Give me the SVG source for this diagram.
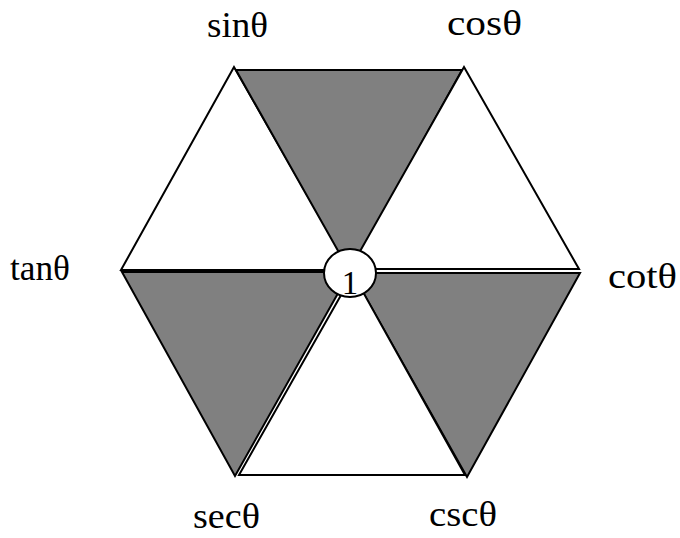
<svg xmlns="http://www.w3.org/2000/svg" width="680" height="538" viewBox="0 0 680 538">
<style>
.w{fill:#ffffff;stroke:#000;stroke-width:2;stroke-linejoin:miter}
.g{fill:#808080;stroke:#000;stroke-width:2;stroke-linejoin:miter}
.lbl{font-family:"Liberation Serif","Times New Roman",serif;font-size:36px;fill:#000}
.one{font-family:"Liberation Serif","Times New Roman",serif;font-size:33px;fill:#000;text-anchor:middle}
</style>
<rect width="680" height="538" fill="#fff"/>
<g id="triangles">
<polygon id="t-topleft" class="w" points="234,67 121,270 350,270"/>
<polygon id="t-top" class="g" points="236,70 462,70 350,272"/>
<polygon id="t-topright" class="w" points="464,67 579,269 350,269"/>
<polygon id="t-right" class="g" points="352,273 580,273 467,477"/>
<polygon id="t-bottom" class="w" points="353,274 239,475 465,475"/>
<polygon id="t-left" class="g" points="122,272 350,272 235,476"/>
</g>
<g id="center">
<ellipse cx="350" cy="273" rx="26" ry="24" fill="#fff" stroke="#000" stroke-width="2"/>
<text class="one" x="350" y="294">1</text>
</g>
<g id="labels">
<text class="lbl" x="207" y="37" textLength="61" lengthAdjust="spacingAndGlyphs">sinθ</text>
<text class="lbl" x="447" y="35" textLength="75" lengthAdjust="spacingAndGlyphs">cosθ</text>
<text class="lbl" x="10" y="280" textLength="60" lengthAdjust="spacingAndGlyphs">tanθ</text>
<text class="lbl" x="608" y="288" textLength="69" lengthAdjust="spacingAndGlyphs">cotθ</text>
<text class="lbl" x="193" y="528" textLength="67" lengthAdjust="spacingAndGlyphs">secθ</text>
<text class="lbl" x="429" y="526" textLength="68" lengthAdjust="spacingAndGlyphs">cscθ</text>
</g>
</svg>
